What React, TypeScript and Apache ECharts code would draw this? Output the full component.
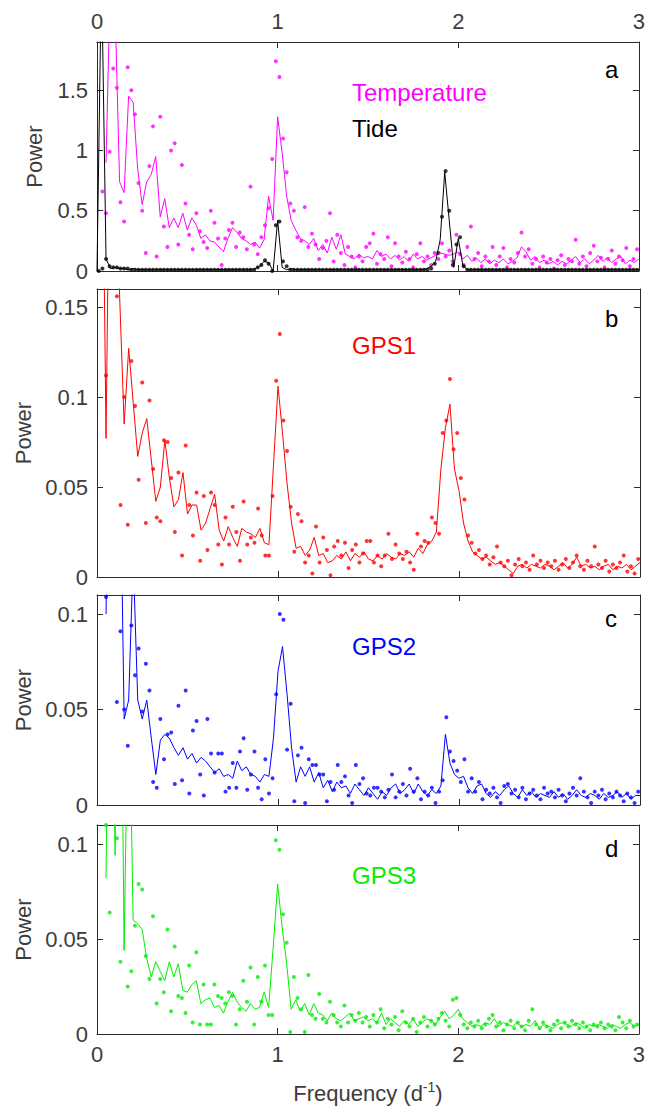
import React, { useEffect, useRef } from "react";
import * as echarts from "echarts";

// ---------- DATA ----------
// Smoothed spectra sampled every 0.025 d^-1 starting at 0 (121 values, 0..3)
const LINE_STEP = 0.025;
// Raw periodogram dots sampled every 0.02 d^-1 starting at 0.01 (150 values)
const DOT_START = 0.01;
const DOT_STEP = 0.02;

const X_TICKS = [0, 1, 2, 3];

const tempLine = [
  null, null, 0.9, 2.5, 2.2, 0.74, 0.65, 1.45, 1.4, 0.85,
  0.55, 0.74, 0.8, 0.95, 0.45, 0.6, 0.36, 0.44, 0.36, 0.48,
  0.34, 0.44, 0.38, 0.27, 0.3, 0.25, 0.24, 0.2, 0.16, 0.27,
  0.36, 0.32, 0.27, 0.25, 0.22, 0.24, 0.19, 0.26, 0.62, 0.42,
  1.28, 0.98, 0.62, 0.42, 0.34, 0.27, 0.25, 0.22, 0.27, 0.17,
  0.22, 0.15, 0.28, 0.18, 0.3, 0.14, 0.12, 0.1, 0.14, 0.11,
  0.12, 0.1, 0.17, 0.12, 0.14, 0.1, 0.13, 0.09, 0.12, 0.08,
  0.14, 0.1, 0.12, 0.09, 0.11, 0.13, 0.15, 0.14, 0.13, 0.14,
  0.16, 0.1, 0.13, 0.08, 0.11, 0.07, 0.1, 0.06, 0.09, 0.07,
  0.1, 0.06, 0.08, 0.11, 0.2, 0.16, 0.09, 0.12, 0.07, 0.09,
  0.06, 0.08, 0.05, 0.08, 0.06, 0.09, 0.12, 0.07, 0.1, 0.06,
  0.09, 0.13, 0.08, 0.11, 0.07, 0.1, 0.12, 0.06, 0.09, 0.07,
  0.1,
];
const tempDots = [
  null, 0.66, 0.48, 0.99, 1.68, 1.52, 0.57, 0.41, 1.69, 1.5,
  1.3, 0.73, 0.5, 0.15, 0.87, 1.2, 0.12, 1.28, 0.37, 0.2,
  1.0, 1.06, 0.22, 0.88, 0.56, 0.3, 0.18, 0.48, 0.33, 0.24,
  0.19, 0.5, 0.4, 0.27, 0.05, 0.27, 0.34, 0.4, 0.2, 0.32,
  0.28, 0.18, 0.7, 0.22, 0.14, 0.28, 0.38, 0.52, 0.93, 1.74,
  1.61, 1.1, 0.82, 0.56, 0.5, 0.28, 0.25, 0.53, 0.2, 0.31,
  0.22, 0.1, 0.19, 0.25, 0.48, 0.08, 0.3, 0.15, 0.05, 0.2,
  0.12, 0.03, 0.12, 0.08, 0.2, 0.23, 0.31, 0.06, 0.14, 0.1,
  0.28, 0.04, 0.23, 0.12, 0.07, 0.16, 0.1, 0.03, 0.14, 0.23,
  0.08, 0.12, 0.05, 0.15, 0.1, 0.23, 0.12, 0.17, 0.08, 0.3,
  0.14, 0.05, 0.2, 0.37, 0.1, 0.15, 0.04, 0.12, 0.08, 0.2,
  0.05, 0.12, 0.19, 0.03, 0.1, 0.07, 0.15, 0.32, 0.12, 0.18,
  0.06, 0.1, 0.03, 0.12, 0.07, 0.1, 0.02, 0.09, 0.13, 0.05,
  0.1, 0.08, 0.26, 0.06, 0.12, 0.04, 0.15, 0.21, 0.08, 0.11,
  0.03, 0.1, 0.17, 0.06, 0.12, 0.09, 0.19, 0.04, 0.1, 0.18,
];
const tideLine = [
  0, 2.5, 0.1, 0.02, 0.03, 0.02, 0.02, 0.01, 0.02, 0.01,
  0.01, 0.01, 0.01, 0.01, 0.01, 0.01, 0.01, 0.01, 0.01, 0.01,
  0.01, 0.01, 0.01, 0.01, 0.01, 0.01, 0.01, 0.01, 0.01, 0.01,
  0.01, 0.01, 0.01, 0.01, 0.01, 0.02, 0.04, 0.08, 0.07, 0.0,
  0.42, 0.03, 0.01, 0.02, 0.01, 0.01, 0.01, 0.01, 0.01, 0.01,
  0.01, 0.01, 0.01, 0.01, 0.01, 0.01, 0.01, 0.01, 0.01, 0.01,
  0.01, 0.01, 0.01, 0.01, 0.01, 0.01, 0.01, 0.01, 0.01, 0.01,
  0.01, 0.01, 0.01, 0.02, 0.04, 0.08, 0.26, 0.82, 0.42, 0.03,
  0.27, 0.05, 0.01, 0.01, 0.01, 0.01, 0.01, 0.01, 0.01, 0.01,
  0.01, 0.01, 0.01, 0.01, 0.01, 0.01, 0.01, 0.01, 0.01, 0.01,
  0.01, 0.01, 0.01, 0.01, 0.01, 0.01, 0.01, 0.01, 0.01, 0.01,
  0.01, 0.01, 0.01, 0.01, 0.01, 0.01, 0.01, 0.01, 0.01, 0.01,
  0.01,
];
const tideDots = [
  0.0, 0.02, 0.1, 0.04, 0.03, 0.03, 0.02, 0.02, 0.02, 0.01,
  0.01, 0.01, 0.01, 0.01, 0.01, 0.01, 0.01, 0.01, 0.01, 0.01,
  0.01, 0.01, 0.01, 0.01, 0.01, 0.01, 0.01, 0.01, 0.01, 0.01,
  0.01, 0.01, 0.01, 0.01, 0.01, 0.01, 0.01, 0.01, 0.01, 0.01,
  0.01, 0.01, 0.01, 0.01, 0.03, 0.05, 0.09, 0.06, 0.0, 0.38,
  0.41, 0.08, 0.04, 0.01, 0.01, 0.01, 0.01, 0.01, 0.01, 0.01,
  0.01, 0.01, 0.01, 0.01, 0.01, 0.01, 0.01, 0.01, 0.01, 0.01,
  0.01, 0.01, 0.01, 0.01, 0.01, 0.01, 0.01, 0.01, 0.01, 0.01,
  0.01, 0.01, 0.01, 0.01, 0.01, 0.01, 0.01, 0.01, 0.01, 0.01,
  0.01, 0.01, 0.02, 0.06, 0.15, 0.45, 0.83, 0.5, 0.05, 0.22,
  0.28, 0.04, 0.01, 0.01, 0.01, 0.01, 0.01, 0.01, 0.01, 0.01,
  0.01, 0.01, 0.01, 0.01, 0.01, 0.01, 0.01, 0.01, 0.01, 0.01,
  0.01, 0.01, 0.01, 0.01, 0.01, 0.01, 0.01, 0.01, 0.01, 0.01,
  0.01, 0.01, 0.01, 0.01, 0.01, 0.01, 0.01, 0.01, 0.01, 0.01,
  0.01, 0.01, 0.01, 0.01, 0.01, 0.01, 0.01, 0.01, 0.01, 0.01,
];
const gps1Line = [
  null, 0.3, 0.077, 0.3, 0.3, 0.156, 0.085, 0.127, 0.097, 0.067,
  0.08, 0.088, 0.065, 0.042, 0.05, 0.076, 0.055, 0.039, 0.043, 0.058,
  0.035, 0.04, 0.04, 0.026, 0.03, 0.038, 0.046, 0.026, 0.02, 0.028,
  0.022, 0.017, 0.027, 0.025, 0.024, 0.022, 0.027, 0.019, 0.018, 0.062,
  0.106, 0.08, 0.052, 0.03, 0.016, 0.017, 0.012, 0.015, 0.022, 0.012,
  0.013, 0.008, 0.009, 0.012, 0.01, 0.014, 0.009, 0.013, 0.011, 0.014,
  0.01, 0.009, 0.012, 0.01, 0.013, 0.011, 0.01, 0.013, 0.012, 0.014,
  0.011, 0.016, 0.013, 0.018, 0.02, 0.025, 0.06, 0.083, 0.096, 0.06,
  0.048, 0.03, 0.02, 0.014, 0.012, 0.01, 0.011, 0.009, 0.007, 0.008,
  0.006, 0.004, 0.002, 0.006, 0.007, 0.005, 0.007, 0.006, 0.005, 0.007,
  0.006, 0.004, 0.006, 0.008, 0.005, 0.007, 0.011, 0.006, 0.007, 0.005,
  0.006, 0.004, 0.006, 0.007, 0.004, 0.006, 0.005, 0.007, 0.004, 0.006,
  0.008,
];
const gps1Dots = [
  null, null, 0.112, null, null, 0.156, 0.04, 0.1, 0.029, 0.12,
  0.095, 0.054, 0.108, 0.03, 0.098, 0.06, 0.033, 0.031, 0.076, 0.075,
  0.055, 0.025, 0.058, 0.012, 0.073, 0.04, 0.023, 0.047, 0.009, 0.045,
  0.015, 0.047, 0.04, 0.018, 0.007, 0.033, 0.018, 0.039, 0.025, 0.009,
  0.042, 0.018, 0.022, 0.019, 0.038, 0.023, 0.012, 0.012, 0.045, 0.109,
  0.135, 0.087, 0.07, 0.039, 0.014, 0.035, 0.031, 0.008, 0.012, 0.002,
  0.028, 0.008, 0.022, 0.015, 0.001, 0.017, 0.02, 0.012, 0.019, 0.005,
  0.015, 0.018, 0.008, 0.013, 0.02, 0.02, 0.008, 0.012, 0.006, 0.012,
  0.024, 0.01, 0.018, 0.013, 0.01, 0.014, 0.008, 0.004, 0.024, 0.017,
  0.02, 0.019, 0.033, 0.03, 0.024, 0.08, 0.087, 0.11, 0.071, 0.08,
  0.055, 0.043, 0.023, 0.019, 0.013, 0.015, 0.01, 0.012, 0.007, 0.011,
  0.017, 0.008, 0.006, 0.009, 0.001, 0.007, 0.01, 0.006, 0.008, 0.004,
  0.012, 0.007, 0.009, 0.005, 0.008, 0.006, 0.009, 0.004, 0.007, 0.01,
  0.005, 0.008, 0.012, 0.006, 0.004, 0.009, 0.006, 0.017, 0.007, 0.005,
  0.009, 0.003, 0.007, 0.005, 0.008, 0.012, 0.003, 0.006, 0.002, 0.01,
];
const gps2Line = [
  null, null, 0.1, 0.3, 0.3, 0.2, 0.045, 0.055, 0.13, 0.055,
  0.045, 0.055, 0.035, 0.016, 0.034, 0.037, 0.035, 0.03, 0.026, 0.03,
  0.024, 0.027, 0.022, 0.025, 0.023, 0.02, 0.017, 0.019, 0.015, 0.016,
  0.014, 0.023, 0.018, 0.02, 0.016, 0.015, 0.012, 0.016, 0.015, 0.035,
  0.07, 0.083, 0.058, 0.03, 0.012, 0.02, 0.015, 0.02, 0.012, 0.017,
  0.009, 0.013, 0.007, 0.012, 0.009, 0.01, 0.006, 0.011, 0.008, 0.005,
  0.009, 0.006, 0.003, 0.007, 0.005, 0.009, 0.011, 0.006, 0.008, 0.011,
  0.006, 0.011, 0.007, 0.005, 0.008, 0.006, 0.01, 0.037, 0.022, 0.016,
  0.014, 0.015, 0.009, 0.006, 0.01, 0.011, 0.006, 0.004, 0.007, 0.005,
  0.008, 0.01, 0.006, 0.004, 0.008, 0.005, 0.007, 0.004, 0.006, 0.005,
  0.004, 0.007, 0.004, 0.006, 0.003, 0.005, 0.008, 0.005, 0.004, 0.006,
  0.005, 0.003, 0.006, 0.004, 0.005, 0.007, 0.004, 0.006, 0.003, 0.005,
  0.005,
];
const gps2Dots = [
  null, null, 0.109, null, null, 0.054, 0.091, 0.05, 0.031, 0.094,
  0.068, 0.082, 0.049, 0.074, 0.06, 0.012, 0.009, 0.045, 0.024, 0.037,
  0.038, 0.011, 0.052, 0.013, 0.06, 0.006, 0.039, 0.044, 0.016, 0.005,
  0.045, 0.027, 0.017, 0.027, 0.027, 0.007, 0.009, 0.022, 0.009, 0.028,
  0.035, 0.008, 0.016, 0.028, 0.009, 0.003, 0.024, 0.006, 0.014, 0.058,
  0.1, 0.097, 0.029, 0.053, 0.002, 0.026, 0.03, 0.001, 0.024, 0.021,
  0.021, 0.016, 0.016, 0.002, 0.012, 0.008, 0.021, 0.012, 0.015, 0.005,
  0.001, 0.021, 0.011, 0.014, 0.006, 0.005, 0.009, 0.009, 0.007, 0.004,
  0.008, 0.016, 0.004, 0.007, 0.011, 0.005, 0.019, 0.007, 0.014, 0.003,
  0.007, 0.005, 0.009, 0.001, 0.007, 0.013, 0.046, 0.028, 0.023, 0.018,
  0.012, 0.024, 0.007, 0.014, 0.007, 0.012, 0.003, 0.008, 0.006, 0.009,
  0.004, 0.001, 0.01, 0.011, 0.006, 0.008, 0.004, 0.009, 0.003, 0.006,
  0.008, 0.005, 0.003, 0.009, 0.006, 0.007, 0.004, 0.008, 0.005, 0.002,
  0.006, 0.009, 0.005, 0.014, 0.007, 0.004, 0.001, 0.007, 0.005, 0.008,
  0.003, 0.006, 0.004, 0.007, 0.005, 0.002, 0.006, 0.004, 0.001, 0.007,
];
const gps3Line = [
  null, null, 0.082, 0.3, 0.094, 0.3, 0.044, 0.2, 0.06, 0.058,
  0.055, 0.04, 0.03, 0.038, 0.033, 0.028, 0.038, 0.03, 0.037, 0.023,
  0.022, 0.026, 0.028, 0.016, 0.018, 0.019, 0.014, 0.015, 0.011, 0.017,
  0.022, 0.017, 0.014, 0.012, 0.016, 0.013, 0.014, 0.022, 0.014, 0.045,
  0.079, 0.056, 0.037, 0.013, 0.018, 0.012, 0.016, 0.01, 0.016, 0.011,
  0.01, 0.007, 0.011, 0.008, 0.007, 0.009, 0.011, 0.007, 0.008, 0.009,
  0.007, 0.008, 0.006, 0.011, 0.005, 0.008, 0.006, 0.004, 0.007, 0.005,
  0.008, 0.004, 0.006, 0.008, 0.007, 0.005, 0.009, 0.012, 0.008, 0.01,
  0.013, 0.008, 0.006, 0.004, 0.005, 0.004, 0.006, 0.005, 0.008, 0.004,
  0.006, 0.005, 0.004, 0.006, 0.004, 0.005, 0.004, 0.007, 0.003, 0.005,
  0.004, 0.003, 0.005, 0.006, 0.005, 0.004, 0.006, 0.005, 0.003, 0.005,
  0.004, 0.005, 0.004, 0.003, 0.005, 0.004, 0.003, 0.005, 0.006, 0.004,
  0.005,
];
const gps3Dots = [
  null, null, 0.11, 0.064, null, 0.103, 0.038, null, 0.025, 0.033,
  0.057, 0.079, 0.076, 0.041, 0.029, 0.062, 0.016, 0.029, 0.022, 0.055,
  0.012, 0.046, 0.02, 0.019, 0.011, 0.036, 0.006, 0.043, 0.005, 0.026,
  0.005, 0.005, 0.026, 0.02, 0.019, 0.016, 0.022, 0.02, 0.005, 0.013,
  0.028, 0.017, 0.035, 0.005, 0.03, 0.017, 0.036, 0.01, 0.01, 0.102,
  0.097, 0.063, 0.048, 0.001, 0.03, 0.019, 0.013, 0.001, 0.031, 0.01,
  0.008, 0.021, 0.008, 0.006, 0.017, 0.01, 0.006, 0.004, 0.015, 0.006,
  0.01, 0.007, 0.011, 0.006, 0.009, 0.004, 0.01, 0.006, 0.013, 0.003,
  0.008, 0.005, 0.009, 0.002, 0.012, 0.006, 0.004, 0.008, 0.001, 0.006,
  0.009, 0.004, 0.007, 0.005, 0.008, 0.011, 0.007, 0.004, 0.018, 0.019,
  0.01, 0.005, 0.003, 0.006, 0.004, 0.007, 0.003, 0.005, 0.008, 0.01,
  0.004, 0.006, 0.002, 0.005, 0.007, 0.003, 0.006, 0.004, 0.002, 0.007,
  0.013, 0.005, 0.003, 0.006, 0.004, 0.002, 0.005, 0.007, 0.003, 0.006,
  0.004, 0.007, 0.005, 0.003, 0.006, 0.004, 0.002, 0.005, 0.004, 0.006,
  0.003, 0.005, 0.004, 0.002, 0.009, 0.006, 0.003, 0.007, 0.004, 0.005,
];

// ---------- LAYOUT / STYLE ----------
const FONT = '"Liberation Sans", Arial, Helvetica, sans-serif';
const AXIS_COLOR = "#2b2b2b";
const LABEL_COLOR = "#3c3c3c";
const PLOT_LEFT = 97;
const PLOT_WIDTH = 543;

const PANELS = [
  { top: 42, height: 229, max: 1.9, interval: 0.5, letter: "a", letterY: 69 },
  { top: 289, height: 288, max: 0.16, interval: 0.05, letter: "b", letterY: 318 },
  { top: 595, height: 210, max: 0.11, interval: 0.05, letter: "c", letterY: 618 },
  { top: 825, height: 209, max: 0.11, interval: 0.05, letter: "d", letterY: 848 },
];

const SERIES_DEF = [
  { name: "Temperature", panel: 0, line: tempLine, dots: tempDots, color: "#ff00ff" },
  { name: "Tide", panel: 0, line: tideLine, dots: tideDots, color: "#000000" },
  { name: "GPS1", panel: 1, line: gps1Line, dots: gps1Dots, color: "#ff0000" },
  { name: "GPS2", panel: 2, line: gps2Line, dots: gps2Dots, color: "#0000ff" },
  { name: "GPS3", panel: 3, line: gps3Line, dots: gps3Dots, color: "#00ee00" },
];

const SERIES_LABELS = [
  { text: "Temperature", y: 92, color: "#ff00ff" },
  { text: "Tide", y: 128, color: "#000000" },
  { text: "GPS1", y: 345, color: "#ff0000" },
  { text: "GPS2", y: 646, color: "#0000ff" },
  { text: "GPS3", y: 875, color: "#00ee00" },
];

const toLine = (vals: (number | null)[]) =>
  vals.map((v, i) => [+(i * LINE_STEP).toFixed(4), v === null ? "-" : v]);
const toDots = (vals: (number | null)[]) =>
  vals
    .map((v, i) => [+(DOT_START + i * DOT_STEP).toFixed(4), v])
    .filter((p) => p[1] !== null);

function buildOption(): any {
  const axisLine = { show: true, onZero: false, lineStyle: { color: AXIS_COLOR, width: 1 } };
  const axisTick = { show: true, inside: true, length: 6, lineStyle: { color: AXIS_COLOR, width: 1 } };
  const labelBase = { color: LABEL_COLOR, fontFamily: FONT, fontSize: 22 };

  const grid = PANELS.map((p) => ({
    left: PLOT_LEFT,
    width: PLOT_WIDTH,
    top: p.top,
    height: p.height,
    show: false,
    containLabel: false,
  }));

  const xAxis: any[] = [];
  const yAxis: any[] = [];
  PANELS.forEach((p, i) => {
    const isLast = i === PANELS.length - 1;
    xAxis.push({
      gridIndex: i,
      type: "value",
      min: X_TICKS[0],
      max: X_TICKS[X_TICKS.length - 1],
      interval: 1,
      position: "bottom",
      axisLine,
      axisTick,
      splitLine: { show: false },
      axisLabel: { show: isLast, margin: 9, ...labelBase },
      name: isLast ? "{a|Frequency (d}{b|-1}{a|)}" : "",
      nameLocation: "middle",
      nameGap: 46,
      nameTextStyle: {
        ...labelBase,
        rich: {
          a: { fontFamily: FONT, fontSize: 22, color: LABEL_COLOR, lineHeight: 26 },
          b: { fontFamily: FONT, fontSize: 14, color: LABEL_COLOR, verticalAlign: "top", lineHeight: 14 },
        },
      },
    });
    xAxis.push({
      gridIndex: i,
      type: "value",
      min: X_TICKS[0],
      max: X_TICKS[X_TICKS.length - 1],
      interval: 1,
      position: "top",
      axisLine,
      axisTick,
      splitLine: { show: false },
      axisLabel: { show: i === 0, margin: 10, ...labelBase },
    });
    yAxis.push({
      gridIndex: i,
      type: "value",
      min: 0,
      max: p.max,
      interval: p.interval,
      position: "left",
      axisLine,
      axisTick,
      splitLine: { show: false },
      axisLabel: { show: true, margin: 9, showMaxLabel: false, ...labelBase },
      name: "Power",
      nameLocation: "middle",
      nameGap: 52,
      nameTextStyle: { ...labelBase },
    });
    yAxis.push({
      gridIndex: i,
      type: "value",
      min: 0,
      max: p.max,
      interval: p.interval,
      position: "right",
      axisLine,
      axisTick,
      splitLine: { show: false },
      axisLabel: { show: false },
    });
  });

  const series: any[] = [];
  SERIES_DEF.forEach((s) => {
    series.push({
      type: "line",
      name: s.name + " smoothed",
      xAxisIndex: s.panel * 2,
      yAxisIndex: s.panel * 2,
      data: toLine(s.line),
      showSymbol: false,
      symbol: "none",
      connectNulls: false,
      clip: true,
      lineStyle: { color: s.color, width: 1 },
      itemStyle: { color: s.color },
      silent: true,
    });
    series.push({
      type: "scatter",
      name: s.name,
      xAxisIndex: s.panel * 2,
      yAxisIndex: s.panel * 2,
      data: toDots(s.dots),
      symbol: "circle",
      symbolSize: 4,
      clip: true,
      itemStyle: { color: s.color },
      silent: true,
    });
  });

  const graphic: any[] = [];
  PANELS.forEach((p) => {
    graphic.push({
      type: "text",
      x: 605,
      y: p.letterY,
      style: {
        text: p.letter,
        fill: "#000",
        font: `24px ${FONT}`,
        textVerticalAlign: "middle",
        verticalAlign: "middle",
      },
    });
  });
  SERIES_LABELS.forEach((l) => {
    graphic.push({
      type: "text",
      x: 352,
      y: l.y,
      style: {
        text: l.text,
        fill: l.color,
        font: `24px ${FONT}`,
        textVerticalAlign: "middle",
        verticalAlign: "middle",
      },
    });
  });

  return {
    animation: false,
    backgroundColor: "#ffffff",
    grid,
    xAxis,
    yAxis,
    series,
    graphic,
  };
}

export default function App() {
  const ref = useRef<HTMLDivElement>(null);
  useEffect(() => {
    if (!ref.current) return;
    const chart = echarts.init(ref.current, null, { renderer: "svg" });
    chart.setOption(buildOption());
    return () => chart.dispose();
  }, []);
  return (
    <div
      ref={ref}
      style={{ position: "absolute", left: 0, top: 0, width: 648, height: 1114, background: "#fff" }}
    />
  );
}
